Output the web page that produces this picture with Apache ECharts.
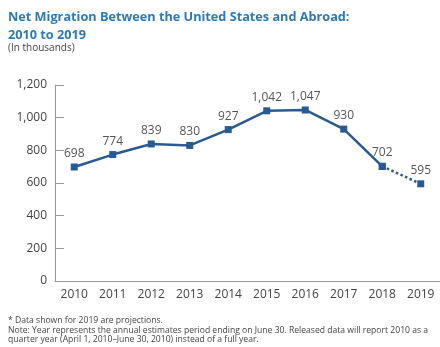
<!DOCTYPE html>
<html>
<head>
<meta charset="utf-8">
<script src="https://cdn.jsdelivr.net/npm/echarts@6/dist/echarts.min.js"></script>
<style>html,body{margin:0;padding:0;background:#fff}#c{width:440px;height:347px}</style>
</head>
<body>
<div id="c"></div>
<script>
var years = ['2010','2011','2012','2013','2014','2015','2016','2017','2018','2019'];
var estimates = [698, 774, 839, 830, 927, 1042, 1047, 930, 702, null];
var projection = [null, null, null, null, null, null, null, null, 702, 595];
var yTicks = [0, 200, 400, 600, 800, 1000, 1200];

var lineColor = '#2a5a94';
var fontFam = '"Open Sans", "Noto Sans", sans-serif';
function fmt(v){ return Number(v).toLocaleString('en-US'); }

var chart = echarts.init(document.getElementById('c'), null, {renderer:'canvas'});
chart.setOption({
  animation: false,
  title: [
    {text: 'Net Migration Between the United States and Abroad:\n2010 to 2019', left: 8, top: 8, padding: 0,
     textStyle: {fontFamily: fontFam, fontWeight: 'bold', fontSize: 12.7, color: '#2b7ab9', lineHeight: 18}},
    {text: '(In thousands)', left: 8, top: 42, padding: 0,
     textStyle: {fontFamily: fontFam, fontWeight: 'normal', fontSize: 10, color: '#444', lineHeight: 12}}
  ],
  graphic: [
    {type: 'text', left: 8, top: 316, style: {text: '* Data shown for 2019 are projections.', font: '8.6px ' + fontFam, fill: '#444', lineHeight: 10}},
    {type: 'text', left: 8, top: 326, style: {text: 'Note: Year represents the annual estimates period ending on June 30. Released data will report 2010 as a\nquarter year (April 1, 2010–June 30, 2010) instead of a full year.', font: '8.6px ' + fontFam, fill: '#444', lineHeight: 9}}
  ],
  grid: {left: 55, right: -7, top: 85, bottom: 66},
  xAxis: {
    type: 'category', data: years, boundaryGap: true,
    axisLine: {lineStyle: {color: '#999', width: 1}},
    axisTick: {inside: true, alignWithLabel: true, length: 5, lineStyle: {color: '#bbb'}},
    axisLabel: {color: '#444', fontSize: 12, fontFamily: fontFam, margin: 8}
  },
  yAxis: {
    type: 'value', min: yTicks[0], max: yTicks[yTicks.length-1], interval: 200,
    axisLine: {show: true, lineStyle: {color: '#999', width: 1}},
    axisTick: {show: true, inside: true, length: 9, lineStyle: {color: '#999'}},
    splitLine: {show: false},
    axisLabel: {color: '#444', fontSize: 12, fontFamily: fontFam, margin: 8, formatter: function(v){return fmt(v);}}
  },
  series: [
    {type: 'line', data: estimates, symbol: 'rect', symbolSize: 7, showAllSymbol: true,
     lineStyle: {color: lineColor, width: 2.5}, itemStyle: {color: lineColor},
     label: {show: true, position: 'top', distance: 4, color: '#555', fontSize: 12, fontFamily: fontFam,
             formatter: function(p){return fmt(p.value);}}},
    {type: 'line', data: projection, symbol: 'rect', symbolSize: 7, showAllSymbol: true,
     lineStyle: {color: lineColor, width: 2.5, type: [2.5, 2.5]}, itemStyle: {color: lineColor},
     label: {show: true, position: 'top', distance: 4, color: '#555', fontSize: 12, fontFamily: fontFam,
             formatter: function(p){return p.dataIndex === 9 ? fmt(p.value) : '';}}}
  ]
});
</script>
</body>
</html>
